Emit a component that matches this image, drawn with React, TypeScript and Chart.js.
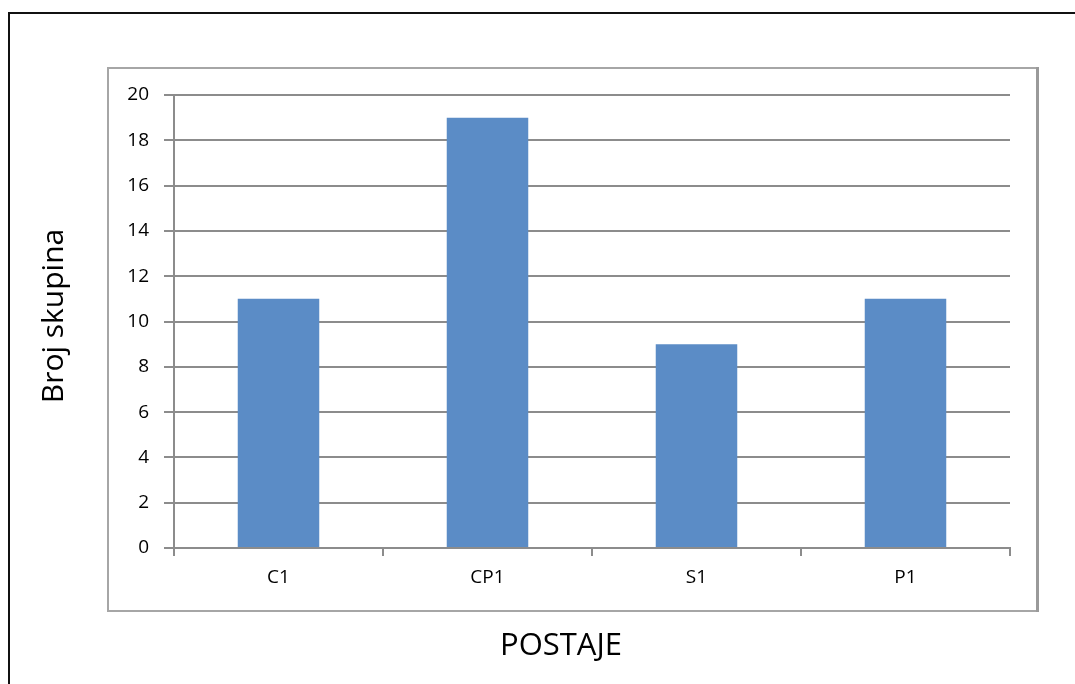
import React, { useEffect, useRef } from "react";
import { Chart, registerables } from "chart.js";

Chart.register(...registerables);

const categories = ["C1", "CP1", "S1", "P1"];
const values = [11, 19, 9, 11];
const yTitle = "Broj skupina";
const xTitle = "POSTAJE";
const yMin = 0;
const yMax = 20;
const yStep = 2;

const FONT = "'Open Sans', sans-serif";
const GRID = "#8c8c8c";

const framePlugin = {
  id: "frame",
  beforeDraw(chart: any) {
    const ctx = chart.ctx;
    ctx.save();
    ctx.fillStyle = "#ffffff";
    ctx.fillRect(0, 0, chart.width, chart.height);
    // outer border
    ctx.strokeStyle = "#111111";
    ctx.lineWidth = 2;
    ctx.beginPath();
    ctx.moveTo(9, chart.height + 2);
    ctx.lineTo(9, 13);
    ctx.lineTo(chart.width + 2, 13);
    ctx.stroke();
    // inner box
    ctx.strokeStyle = "#a6a6a6";
    ctx.lineWidth = 2;
    ctx.strokeRect(108, 68, 929, 543);
    ctx.strokeStyle = "#9a9a9a";
    ctx.lineWidth = 3;
    ctx.beginPath();
    ctx.moveTo(1037.5, 67);
    ctx.lineTo(1037.5, 612);
    ctx.stroke();
    ctx.restore();
  },
  afterDraw(chart: any) {
    const ctx = chart.ctx;
    ctx.save();
    ctx.fillStyle = "#000000";
    ctx.textAlign = "center";
    ctx.textBaseline = "middle";
    ctx.font = `31px ${FONT}`;
    ctx.fillText(xTitle, 561, 646);
    ctx.translate(54, 316);
    ctx.rotate(-Math.PI / 2);
    ctx.font = `30px ${FONT}`;
    ctx.fillText(yTitle, 0, 0);
    ctx.restore();
  },
};

export default function App() {
  const ref = useRef<HTMLCanvasElement | null>(null);
  useEffect(() => {
    if (!ref.current) return;
    const chart = new Chart(ref.current, {
      type: "bar",
      data: {
        labels: categories,
        datasets: [
          {
            data: values,
            backgroundColor: "#5b8cc6",
            borderWidth: 0,
            barPercentage: 0.39,
            categoryPercentage: 1,
          },
        ],
      },
      options: {
        responsive: false,
        animation: false,
        layout: { padding: { left: 100, top: 95, right: 65, bottom: 0 } },
        plugins: { legend: { display: false }, tooltip: { enabled: false } },
        scales: {
          x: {
            offset: true,
            grid: {
              offset: true,
              drawOnChartArea: false,
              drawTicks: true,
              tickLength: 8,
              color: GRID,
              lineWidth: 2,
            },
            border: { color: GRID, width: 2 },
            ticks: {
              color: "#000",
              font: { family: FONT, size: 19 },
              padding: 10,
            },
            afterFit: (s: any) => {
              s.height = 136;
            },
          },
          y: {
            min: yMin,
            max: yMax,
            grid: { color: GRID, lineWidth: 2, tickLength: 10 },
            border: { color: GRID, width: 2 },
            ticks: {
              stepSize: yStep,
              color: "#000",
              font: { family: FONT, size: 19 },
              padding: 15,
            },
            afterFit: (s: any) => {
              s.width = 74;
            },
          },
        },
      },
      plugins: [framePlugin],
    });
    return () => chart.destroy();
  }, []);
  return (
    <div style={{ position: "absolute", left: 0, top: 0, width: 1075, height: 684 }}>
      <canvas ref={ref} width={1075} height={684} style={{ display: "block" }} />
    </div>
  );
}
